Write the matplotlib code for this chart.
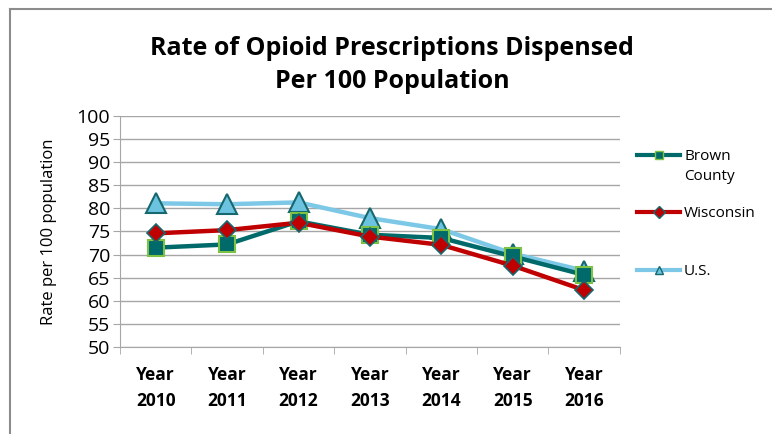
import matplotlib.pyplot as plt
from matplotlib.lines import Line2D

plt.rcParams['font.family'] = ['Open Sans', 'DejaVu Sans']

years = ['Year\n2010', 'Year\n2011', 'Year\n2012', 'Year\n2013', 'Year\n2014', 'Year\n2015', 'Year\n2016']
brown = [71.5, 72.2, 77.2, 74.3, 73.6, 69.6, 65.6]
wisconsin = [74.6, 75.3, 76.9, 73.9, 72.1, 67.6, 62.3]
us = [81.1, 80.9, 81.3, 77.9, 75.5, 70.2, 66.5]

fig = plt.figure(figsize=(7.72, 4.34), dpi=100)
ax = fig.add_axes([0.1554, 0.2005, 0.6476, 0.5322])

x = list(range(len(years)))
l_us, = ax.plot(x, us, color='#7CC8E6', linewidth=3.2, marker='^', markersize=14,
                markerfacecolor='#6CC3E0', markeredgecolor='#17686E', markeredgewidth=1.5, zorder=3)
l_br, = ax.plot(x, brown, color='#006A6A', linewidth=3.2, marker='s', markersize=12,
                markerfacecolor='#006A6A', markeredgecolor='#7DC242', markeredgewidth=1.5, zorder=4)
l_wi, = ax.plot(x, wisconsin, color='#C00000', linewidth=3.2, marker='D', markersize=9.5,
                markerfacecolor='#C00000', markeredgecolor='#17686E', markeredgewidth=1.2, zorder=5)

ax.set_ylim(50, 100)
ax.set_yticks(range(50, 101, 5))
ax.set_xlim(-0.5, 6.5)
ax.set_xticks(x)
ax.set_xticklabels(years, fontweight='bold', fontsize=12.5, linespacing=1.55)
ax.set_xticks([i - 0.5 for i in range(8)], minor=True)
ax.tick_params(axis='x', which='major', length=0, pad=14)
ax.tick_params(axis='x', which='minor', length=5, color='#A6A6A6', direction='out')
ax.tick_params(axis='y', labelsize=14, length=5, color='#A6A6A6', pad=2)
ax.grid(axis='y', color='#A6A6A6', linewidth=1)
for s in ['top', 'right']:
    ax.spines[s].set_visible(False)
ax.spines['left'].set_color('#A6A6A6')
ax.spines['bottom'].set_color('#A6A6A6')
ax.set_axisbelow(True)
ax.set_ylabel('Rate per 100 population', fontsize=12, labelpad=14)

fig.suptitle('Rate of Opioid Prescriptions Dispensed\nPer 100 Population',
             x=0.508, y=0.918, fontsize=18, fontweight='bold', linespacing=1.45)

# legend drawn by hand, Excel style (handle aligned with first text line)
legend_items = [(l_br, 'Brown\nCounty', 155), (l_wi, 'Wisconsin', 212), (l_us, 'U.S.', 270)]
H = 434.0
for line, text, ypix in legend_items:
    yf = 1 - ypix / H
    fig.add_artist(Line2D([637 / 772, 680 / 772], [yf, yf], color=line.get_color(), linewidth=3))
    fig.add_artist(Line2D([658.5 / 772], [yf], marker=line.get_marker(), markersize=6,
                          markerfacecolor=line.get_markerfacecolor(),
                          markeredgecolor=line.get_markeredgecolor(), markeredgewidth=1))
    fig.text(684 / 772, yf + 6 / H, text, fontsize=11, va='top', ha='left', linespacing=1.45)

fig.add_artist(Line2D([0.013, 1.0], [0.979, 0.979], color='#8C8C8C', linewidth=1.5))
fig.add_artist(Line2D([0.013, 0.013], [0.0, 0.979], color='#8C8C8C', linewidth=1.5))

fig.savefig('out.png', dpi=100)
